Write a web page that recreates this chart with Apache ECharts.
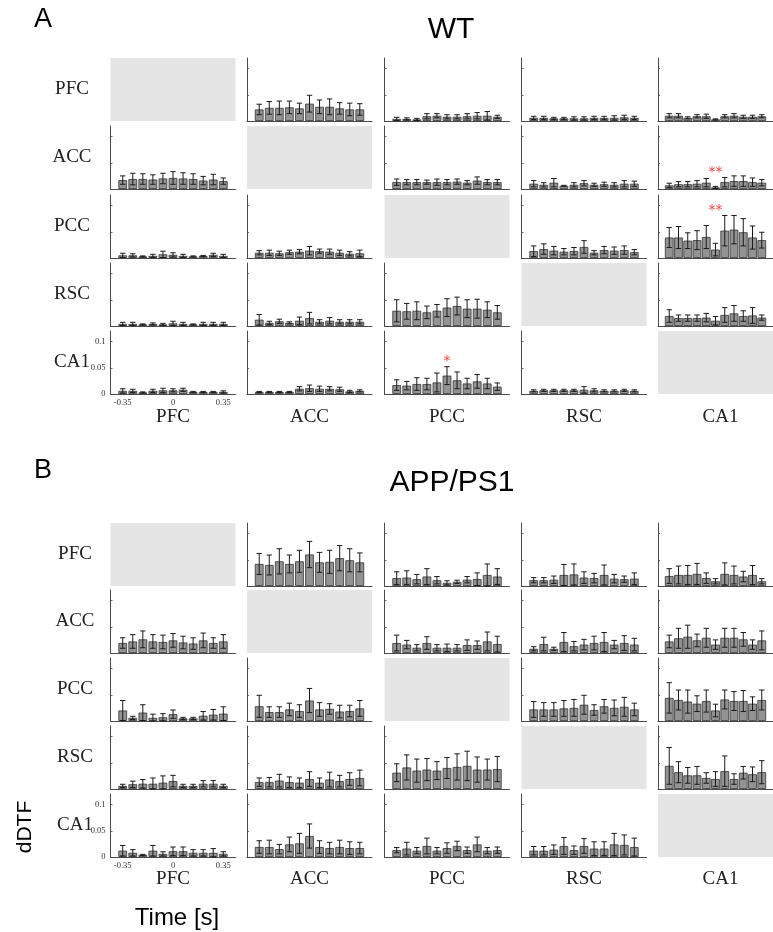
<!DOCTYPE html>
<html><head><meta charset="utf-8">
<script src="https://cdn.jsdelivr.net/npm/echarts@6/dist/echarts.min.js"></script>
<style>html,body{margin:0;padding:0;background:#fff}#c{width:773px;height:932px}</style>
</head><body><div id="c"></div>
<script>
// ---------- categories / ticks ----------
const regions = ['PFC', 'ACC', 'PCC', 'RSC', 'CA1'];
const times = [-0.35, -0.28, -0.21, -0.14, -0.07, 0, 0.07, 0.14, 0.21, 0.28, 0.35];
const xTickLabels = [-0.35, 0, 0.35];
const yTickLabels = [0, 0.05, 0.1];

// ---------- WT (panel A): row region -> column region ----------
const wt_PFC_ACC_mean = [.022,.025,.025,.026,.024,.033,.027,.027,.024,.022,.022];
const wt_PFC_ACC_err  = [.010,.012,.013,.012,.010,.016,.013,.015,.011,.012,.011];
const wt_PFC_PCC_mean = [.004,.004,.003,.009,.010,.008,.008,.009,.010,.010,.008];
const wt_PFC_PCC_err  = [.003,.002,.002,.005,.004,.004,.004,.005,.006,.008,.003];
const wt_PFC_RSC_mean = [.006,.006,.005,.005,.005,.005,.006,.006,.006,.007,.006];
const wt_PFC_RSC_err  = [.003,.003,.002,.002,.003,.003,.003,.003,.004,.004,.003];
const wt_PFC_CA1_mean = [.010,.010,.006,.009,.009,.003,.009,.010,.008,.008,.009];
const wt_PFC_CA1_err  = [.004,.004,.002,.003,.004,.001,.003,.004,.003,.003,.003];

const wt_ACC_PFC_mean = [.017,.019,.019,.018,.020,.021,.020,.019,.016,.018,.015];
const wt_ACC_PFC_err  = [.008,.011,.010,.009,.010,.012,.011,.010,.008,.010,.006];
const wt_ACC_PCC_mean = [.013,.013,.013,.013,.013,.013,.014,.012,.016,.013,.013];
const wt_ACC_PCC_err  = [.006,.005,.005,.004,.006,.005,.005,.004,.007,.005,.005];
const wt_ACC_RSC_mean = [.010,.008,.012,.006,.008,.011,.008,.009,.008,.010,.010];
const wt_ACC_RSC_err  = [.006,.004,.008,.001,.004,.005,.003,.004,.004,.006,.005];
const wt_ACC_CA1_mean = [.007,.009,.009,.010,.012,.003,.013,.015,.015,.013,.012];
const wt_ACC_CA1_err  = [.004,.005,.005,.006,.008,.002,.009,.010,.010,.008,.006];

const wt_PCC_PFC_mean = [.005,.005,.003,.004,.007,.006,.004,.003,.004,.006,.004];
const wt_PCC_PFC_err  = [.004,.003,.001,.003,.006,.004,.003,.001,.001,.003,.003];
const wt_PCC_ACC_mean = [.010,.010,.009,.011,.012,.014,.013,.012,.010,.008,.009];
const wt_PCC_ACC_err  = [.004,.005,.004,.004,.004,.008,.004,.005,.005,.004,.006];
const wt_PCC_RSC_mean = [.013,.017,.014,.012,.013,.021,.010,.015,.014,.015,.011];
const wt_PCC_RSC_err  = [.010,.010,.008,.006,.007,.012,.004,.007,.007,.008,.005];
const wt_PCC_CA1_mean = [.039,.039,.033,.034,.040,.016,.052,.054,.049,.039,.034];
const wt_PCC_CA1_err  = [.019,.021,.015,.018,.022,.012,.029,.027,.026,.022,.015];

const wt_RSC_PFC_mean = [.004,.004,.003,.004,.003,.005,.004,.003,.004,.004,.004];
const wt_RSC_PFC_err  = [.003,.003,.001,.002,.002,.004,.003,.001,.003,.003,.003];
const wt_RSC_ACC_mean = [.012,.006,.009,.006,.010,.015,.008,.010,.008,.008,.008];
const wt_RSC_ACC_err  = [.010,.003,.004,.002,.007,.011,.004,.006,.004,.004,.004];
const wt_RSC_PCC_mean = [.029,.028,.029,.026,.029,.035,.038,.033,.033,.031,.026];
const wt_RSC_PCC_err  = [.021,.015,.017,.012,.012,.017,.017,.017,.018,.015,.013];
const wt_RSC_CA1_mean = [.019,.015,.015,.015,.016,.010,.021,.024,.019,.020,.016];
const wt_RSC_CA1_err  = [.012,.006,.006,.006,.008,.008,.014,.015,.010,.015,.005];

const wt_CA1_PFC_mean = [.006,.006,.003,.006,.007,.007,.008,.004,.004,.004,.004];
const wt_CA1_PFC_err  = [.004,.003,.001,.003,.004,.003,.003,.001,.001,.001,.002];
const wt_CA1_ACC_mean = [.004,.004,.004,.004,.010,.011,.010,.010,.009,.005,.006];
const wt_CA1_ACC_err  = [.001,.001,.001,.001,.004,.006,.005,.004,.004,.002,.002];
const wt_CA1_PCC_mean = [.017,.016,.019,.019,.022,.035,.026,.020,.024,.020,.014];
const wt_CA1_PCC_err  = [.010,.008,.012,.011,.018,.017,.016,.010,.013,.010,.007];
const wt_CA1_RSC_mean = [.006,.007,.007,.007,.007,.008,.007,.006,.006,.007,.006];
const wt_CA1_RSC_err  = [.002,.002,.002,.002,.002,.006,.003,.002,.002,.002,.002];

// ---------- APP/PS1 (panel B) ----------
const app_PFC_ACC_mean = [.042,.040,.047,.042,.047,.060,.045,.046,.053,.049,.045];
const app_PFC_ACC_err  = [.020,.019,.024,.017,.021,.025,.019,.022,.024,.022,.018];
const app_PFC_PCC_mean = [.015,.016,.013,.018,.011,.006,.008,.012,.013,.021,.018];
const app_PFC_PCC_err  = [.012,.013,.009,.015,.007,.004,.003,.006,.012,.021,.015];
const app_PFC_RSC_mean = [.011,.011,.012,.021,.022,.016,.015,.021,.014,.013,.014];
const app_PFC_RSC_err  = [.005,.005,.007,.020,.020,.011,.009,.019,.008,.006,.011];
const app_PFC_CA1_mean = [.019,.021,.021,.023,.015,.009,.023,.021,.018,.021,.009];
const app_PFC_CA1_err  = [.014,.017,.018,.020,.010,.005,.021,.017,.010,.018,.005];

const app_ACC_PFC_mean = [.019,.022,.026,.022,.021,.024,.020,.018,.024,.019,.022];
const app_ACC_PFC_err  = [.010,.013,.016,.013,.013,.013,.012,.011,.014,.010,.013];
const app_ACC_PCC_mean = [.019,.016,.010,.019,.010,.010,.010,.015,.015,.022,.017];
const app_ACC_PCC_err  = [.015,.008,.006,.012,.006,.007,.006,.010,.008,.018,.015];
const app_ACC_RSC_mean = [.008,.017,.008,.021,.013,.016,.019,.021,.016,.019,.016];
const app_ACC_RSC_err  = [.004,.013,.003,.018,.009,.010,.013,.018,.008,.014,.012];
const app_ACC_CA1_mean = [.022,.028,.031,.024,.029,.016,.029,.029,.026,.016,.024];
const app_ACC_CA1_err  = [.012,.019,.022,.012,.018,.009,.018,.018,.013,.009,.018];

const app_PCC_PFC_mean = [.020,.006,.016,.006,.007,.013,.005,.005,.010,.012,.014];
const app_PCC_PFC_err  = [.019,.003,.015,.007,.007,.008,.002,.002,.008,.010,.013];
const app_PCC_ACC_mean = [.028,.017,.017,.022,.019,.039,.022,.023,.018,.019,.024];
const app_PCC_ACC_err  = [.021,.010,.010,.012,.012,.023,.013,.010,.012,.011,.015];
const app_PCC_RSC_mean = [.022,.022,.022,.024,.025,.031,.021,.028,.025,.027,.022];
const app_PCC_RSC_err  = [.015,.013,.013,.015,.016,.018,.010,.013,.015,.018,.012];
const app_PCC_CA1_mean = [.044,.040,.037,.033,.038,.020,.041,.038,.038,.033,.040];
const app_PCC_CA1_err  = [.029,.019,.022,.015,.021,.012,.018,.018,.020,.013,.019];

const app_RSC_PFC_mean = [.006,.009,.010,.010,.012,.015,.006,.006,.010,.010,.006];
const app_RSC_PFC_err  = [.003,.006,.008,.011,.013,.011,.003,.003,.006,.006,.003];
const app_RSC_ACC_mean = [.013,.013,.016,.013,.012,.019,.012,.018,.015,.019,.021];
const app_RSC_ACC_err  = [.008,.009,.012,.010,.009,.014,.009,.014,.011,.012,.015];
const app_RSC_PCC_mean = [.031,.041,.035,.037,.035,.040,.042,.044,.037,.037,.038];
const app_RSC_PCC_err  = [.017,.024,.022,.021,.017,.020,.025,.028,.024,.020,.024];
const app_RSC_CA1_mean = [.044,.032,.026,.026,.021,.019,.034,.019,.031,.028,.032];
const app_RSC_CA1_err  = [.035,.020,.015,.017,.010,.014,.029,.010,.012,.014,.022];

const app_CA1_PFC_mean = [.012,.008,.004,.012,.006,.011,.011,.008,.008,.008,.006];
const app_CA1_PFC_err  = [.010,.006,.001,.010,.004,.008,.008,.006,.006,.008,.004];
const app_CA1_ACC_mean = [.019,.019,.015,.024,.026,.040,.019,.017,.019,.017,.017];
const app_CA1_ACC_err  = [.012,.013,.009,.014,.019,.023,.012,.011,.013,.012,.011];
const app_CA1_PCC_mean = [.013,.016,.012,.021,.012,.017,.021,.013,.024,.012,.013];
const app_CA1_PCC_err  = [.005,.012,.006,.015,.006,.010,.009,.006,.014,.006,.006];
const app_CA1_RSC_mean = [.012,.012,.014,.021,.013,.021,.016,.016,.024,.023,.019];
const app_CA1_RSC_err  = [.008,.008,.009,.016,.008,.014,.013,.013,.021,.019,.017];

// ---------- significance markers (row, col, time, y position of marker) ----------
const wtStars = [
  {row: 'ACC', col: 'CA1', t: 0, y: 0.032, text: '**'},
  {row: 'PCC', col: 'CA1', t: 0, y: 0.091, text: '**'},
  {row: 'CA1', col: 'PCC', t: 0, y: 0.062, text: '*'}
];
const appStars = [];

// ---------- lookup tables built from the arrays ----------
const wtCells = {
  PFC: {ACC: [wt_PFC_ACC_mean, wt_PFC_ACC_err], PCC: [wt_PFC_PCC_mean, wt_PFC_PCC_err], RSC: [wt_PFC_RSC_mean, wt_PFC_RSC_err], CA1: [wt_PFC_CA1_mean, wt_PFC_CA1_err]},
  ACC: {PFC: [wt_ACC_PFC_mean, wt_ACC_PFC_err], PCC: [wt_ACC_PCC_mean, wt_ACC_PCC_err], RSC: [wt_ACC_RSC_mean, wt_ACC_RSC_err], CA1: [wt_ACC_CA1_mean, wt_ACC_CA1_err]},
  PCC: {PFC: [wt_PCC_PFC_mean, wt_PCC_PFC_err], ACC: [wt_PCC_ACC_mean, wt_PCC_ACC_err], RSC: [wt_PCC_RSC_mean, wt_PCC_RSC_err], CA1: [wt_PCC_CA1_mean, wt_PCC_CA1_err]},
  RSC: {PFC: [wt_RSC_PFC_mean, wt_RSC_PFC_err], ACC: [wt_RSC_ACC_mean, wt_RSC_ACC_err], PCC: [wt_RSC_PCC_mean, wt_RSC_PCC_err], CA1: [wt_RSC_CA1_mean, wt_RSC_CA1_err]},
  CA1: {PFC: [wt_CA1_PFC_mean, wt_CA1_PFC_err], ACC: [wt_CA1_ACC_mean, wt_CA1_ACC_err], PCC: [wt_CA1_PCC_mean, wt_CA1_PCC_err], RSC: [wt_CA1_RSC_mean, wt_CA1_RSC_err]}
};
const appCells = {
  PFC: {ACC: [app_PFC_ACC_mean, app_PFC_ACC_err], PCC: [app_PFC_PCC_mean, app_PFC_PCC_err], RSC: [app_PFC_RSC_mean, app_PFC_RSC_err], CA1: [app_PFC_CA1_mean, app_PFC_CA1_err]},
  ACC: {PFC: [app_ACC_PFC_mean, app_ACC_PFC_err], PCC: [app_ACC_PCC_mean, app_ACC_PCC_err], RSC: [app_ACC_RSC_mean, app_ACC_RSC_err], CA1: [app_ACC_CA1_mean, app_ACC_CA1_err]},
  PCC: {PFC: [app_PCC_PFC_mean, app_PCC_PFC_err], ACC: [app_PCC_ACC_mean, app_PCC_ACC_err], RSC: [app_PCC_RSC_mean, app_PCC_RSC_err], CA1: [app_PCC_CA1_mean, app_PCC_CA1_err]},
  RSC: {PFC: [app_RSC_PFC_mean, app_RSC_PFC_err], ACC: [app_RSC_ACC_mean, app_RSC_ACC_err], PCC: [app_RSC_PCC_mean, app_RSC_PCC_err], CA1: [app_RSC_CA1_mean, app_RSC_CA1_err]},
  CA1: {PFC: [app_CA1_PFC_mean, app_CA1_PFC_err], ACC: [app_CA1_ACC_mean, app_CA1_ACC_err], PCC: [app_CA1_PCC_mean, app_CA1_PCC_err], RSC: [app_CA1_RSC_mean, app_CA1_RSC_err]}
};

// ---------- layout / style ----------
const colLeft = [110.5, 247, 384.5, 521.5, 658];
const cellW = 125, cellH = 63;
const panels = [
  {cells: wtCells, stars: wtStars, tops: [58, 126, 195, 263, 331], letter: 'A', letterY: 20, title: 'WT', titleX: 451, titleY: 30, rowLabelX: 72, colLabelY: 417},
  {cells: appCells, stars: appStars, tops: [523, 590, 658, 726, 794], letter: 'B', letterY: 471, title: 'APP/PS1', titleX: 452, titleY: 483, rowLabelX: 75, colLabelY: 879}
];
const SERIF = '"Liberation Serif", "DejaVu Serif", serif';
const SANS = '"Liberation Sans", Arial, sans-serif';
const AX = '#4a4a4a';

const grids = [], xAxes = [], yAxes = [], series = [], graphics = [];

panels.forEach(P => {
  graphics.push({type: 'text', x: 43, y: P.letterY, style: {text: P.letter, font: '27px ' + SANS, fill: '#000', align: 'center', verticalAlign: 'middle'}});
  graphics.push({type: 'text', x: P.titleX, y: P.titleY, style: {text: P.title, font: '30px ' + SANS, fill: '#000', align: 'center', verticalAlign: 'middle'}});
  regions.forEach((rowName, r) => {
    graphics.push({type: 'text', x: P.rowLabelX, y: P.tops[r] + cellH / 2, style: {text: rowName, font: '19px ' + SERIF, fill: '#222', align: 'center', verticalAlign: 'middle'}});
    regions.forEach((colName, c) => {
      const idx = grids.length;
      const diag = r === c;
      const withLabels = (r === 4 && c === 0);
      grids.push({left: colLeft[c], top: P.tops[r], width: cellW, height: cellH, show: diag, backgroundColor: '#e5e5e5', borderWidth: 0, containLabel: false});
      xAxes.push({
        gridIndex: idx, type: 'value', min: -0.435, max: 0.435, show: !diag,
        axisLine: {show: true, onZero: false, lineStyle: {color: AX, width: 1}},
        axisTick: {show: true, inside: true, length: 2, customValues: times, lineStyle: {color: AX, width: 0.8}},
        axisLabel: {show: withLabels, customValues: xTickLabels, margin: 4, fontFamily: SERIF, fontSize: 8.5, color: '#333', formatter: v => String(v)},
        splitLine: {show: false}
      });
      yAxes.push({
        gridIndex: idx, type: 'value', min: 0, max: 0.12, show: !diag,
        axisLine: {show: true, onZero: false, lineStyle: {color: AX, width: 1}},
        axisTick: {show: true, inside: true, length: 2, customValues: yTickLabels, lineStyle: {color: AX, width: 0.8}},
        axisLabel: {show: withLabels, customValues: yTickLabels, margin: 5, fontFamily: SERIF, fontSize: 8.5, color: '#333', formatter: v => String(v)},
        splitLine: {show: false}
      });
      if (diag) return;
      const pair = P.cells[rowName][colName];
      const mean = pair[0], err = pair[1];
      series.push({
        type: 'bar', xAxisIndex: idx, yAxisIndex: idx, silent: true, animation: false,
        barWidth: 8.7,
        itemStyle: {color: '#939393', borderColor: '#333', borderWidth: 0.8},
        data: times.map((t, k) => [t, mean[k]])
      });
      series.push({
        type: 'custom', xAxisIndex: idx, yAxisIndex: idx, silent: true, animation: false, z: 5,
        data: times.map((t, k) => [t, mean[k], err[k]]),
        renderItem: (params, api) => {
          const x = api.value(0), y = api.value(1), e = api.value(2);
          const hi = api.coord([x, y + e]);
          const lo = api.coord([x, Math.max(0, y - e)]);
          const cap = 2.7;
          const st = {stroke: '#1a1a1a', lineWidth: 1};
          return {type: 'group', children: [
            {type: 'line', shape: {x1: hi[0], y1: hi[1], x2: lo[0], y2: lo[1]}, style: st},
            {type: 'line', shape: {x1: hi[0] - cap, y1: hi[1], x2: hi[0] + cap, y2: hi[1]}, style: st},
            {type: 'line', shape: {x1: lo[0] - cap, y1: lo[1], x2: lo[0] + cap, y2: lo[1]}, style: st}
          ]};
        }
      });
    });
  });
  regions.forEach((colName, c) => {
    graphics.push({type: 'text', x: colLeft[c] + cellW / 2, y: P.colLabelY, style: {text: colName, font: '19px ' + SERIF, fill: '#222', align: 'center', verticalAlign: 'middle'}});
  });
  P.stars.forEach(s => {
    const idx = (P === panels[0] ? 0 : 25) + regions.indexOf(s.row) * 5 + regions.indexOf(s.col);
    series.push({
      type: 'custom', xAxisIndex: idx, yAxisIndex: idx, silent: true, animation: false, z: 6,
      data: [[s.t, s.y]],
      renderItem: (params, api) => {
        const pt = api.coord([api.value(0), api.value(1)]);
        return {type: 'text', x: pt[0], y: pt[1], style: {text: s.text, font: '14px "DejaVu Sans", sans-serif', fill: '#ff3b3b', align: 'center', verticalAlign: 'middle'}};
      }
    });
  });
});

graphics.push({type: 'text', x: 25, y: 827, rotation: Math.PI / 2, style: {text: 'dDTF', font: '21px ' + SANS, fill: '#000', align: 'center', verticalAlign: 'middle'}});
graphics.push({type: 'text', x: 177, y: 918, style: {text: 'Time [s]', font: '24px ' + SANS, fill: '#000', align: 'center', verticalAlign: 'middle'}});

const chart = echarts.init(document.getElementById('c'), null, {renderer: 'canvas'});
chart.setOption({
  animation: false,
  backgroundColor: '#fff',
  grid: grids,
  xAxis: xAxes,
  yAxis: yAxes,
  series: series,
  graphic: graphics
});
</script>
</body></html>
